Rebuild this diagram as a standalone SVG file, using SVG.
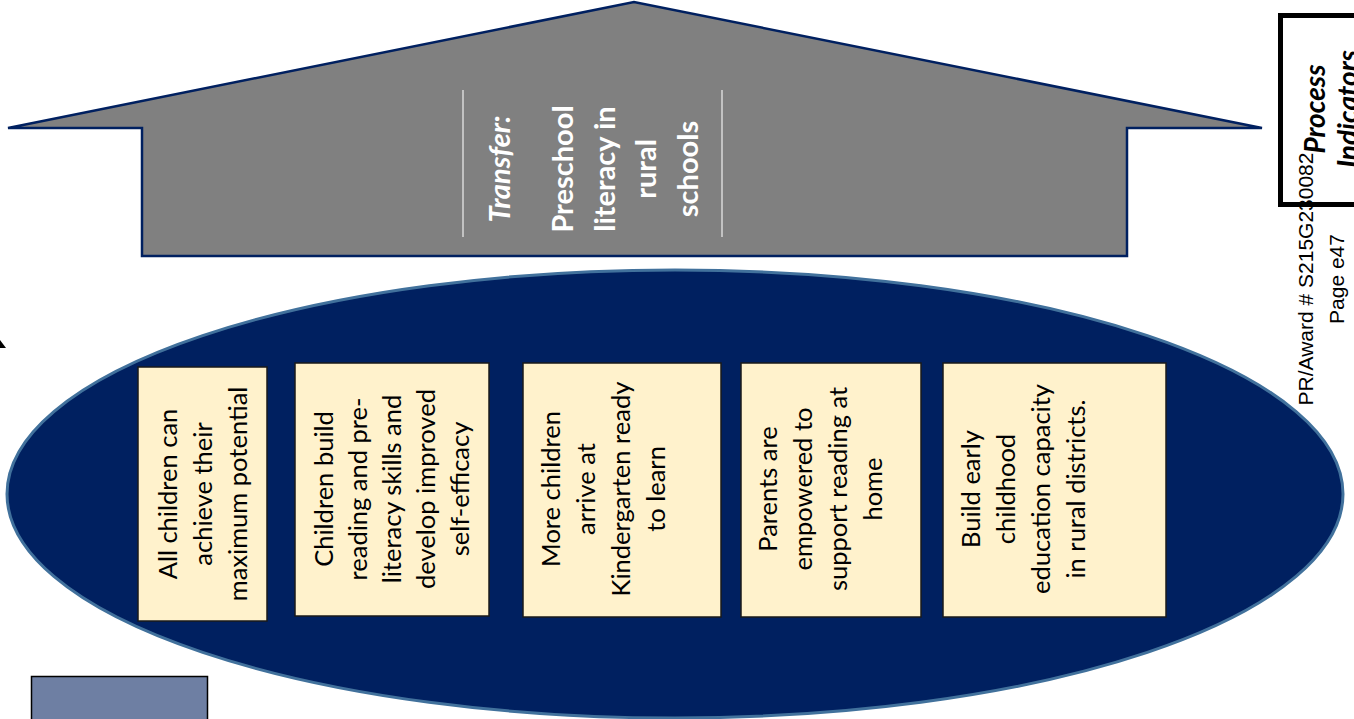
<svg xmlns="http://www.w3.org/2000/svg" width="1354" height="719" viewBox="0 0 1354 719">
<style>
.box{fill:#fff2cc;stroke:#1a1a1a;stroke-width:1.5}
.bt{font-family:Lato,"Open Sans",sans-serif;font-size:25.5px;fill:#000;text-anchor:middle}
.tt{font-family:Lato,"Open Sans",sans-serif;font-size:29px;font-weight:bold;fill:#fff;text-anchor:middle}
.pr{font-family:"Liberation Sans",Arial,sans-serif;font-size:21px;fill:#000;text-anchor:middle}
.pi{font-family:Lato,"Open Sans",sans-serif;font-size:28px;font-weight:bold;font-style:italic;fill:#000;text-anchor:middle}
</style>
<rect width="1354" height="719" fill="#fff"/>
<g id="house">
<polygon points="8,128 634,2 1262,128 1127,128 1127,256 142,256 142,128" fill="#808080" stroke="#002060" stroke-width="2.5" stroke-linejoin="miter"/>
<line x1="463" y1="90" x2="463" y2="237" stroke="#d9d9d9" stroke-width="1.5"/>
<line x1="722" y1="90" x2="722" y2="237" stroke="#d9d9d9" stroke-width="1.5"/>
<text class="tt" font-style="italic" transform="translate(510,169) rotate(-90)">Transfer:</text>
<text class="tt" transform="translate(573,169) rotate(-90)">Preschool</text>
<text class="tt" transform="translate(614.5,169) rotate(-90)">literacy in</text>
<text class="tt" transform="translate(656,169) rotate(-90)">rural</text>
<text class="tt" transform="translate(698,169) rotate(-90)">schools</text>
</g>
<g id="process-indicators">
<rect x="1280.5" y="15.5" width="90" height="189" fill="#fff" stroke="#000" stroke-width="5"/>
<text class="pi" transform="translate(1325,109) rotate(-90)">Process</text>
<text class="pi" transform="translate(1358,109) rotate(-90)">Indicators</text>
</g>
<g id="ellipse">
<ellipse cx="675" cy="494" rx="668" ry="224" fill="#002060" stroke="#41719c" stroke-width="3"/>
</g>
<g id="box1">
<rect class="box" x="138" y="367" width="129" height="254"/>
<text class="bt" transform="translate(177,494) rotate(-90)">All children can</text>
<text class="bt" transform="translate(212,494) rotate(-90)">achieve their</text>
<text class="bt" transform="translate(247,494) rotate(-90)">maximum potential</text>
</g>
<g id="box2">
<rect class="box" x="295" y="363" width="194" height="253"/>
<text class="bt" transform="translate(333,489) rotate(-90)">Children build</text>
<text class="bt" transform="translate(367,489) rotate(-90)">reading and pre-</text>
<text class="bt" transform="translate(401,489) rotate(-90)">literacy skills and</text>
<text class="bt" transform="translate(435,489) rotate(-90)">develop improved</text>
<text class="bt" transform="translate(469,489) rotate(-90)">self-efficacy</text>
</g>
<g id="box3">
<rect class="box" x="523" y="363" width="198" height="254"/>
<text class="bt" transform="translate(560,489) rotate(-90)">More children</text>
<text class="bt" transform="translate(595,489) rotate(-90)">arrive at</text>
<text class="bt" transform="translate(630,489) rotate(-90)">Kindergarten ready</text>
<text class="bt" transform="translate(665,489) rotate(-90)">to learn</text>
</g>
<g id="box4">
<rect class="box" x="741" y="363" width="180" height="254"/>
<text class="bt" transform="translate(777,489) rotate(-90)">Parents are</text>
<text class="bt" transform="translate(812,489) rotate(-90)">empowered to</text>
<text class="bt" transform="translate(847,489) rotate(-90)">support reading at</text>
<text class="bt" transform="translate(882,489) rotate(-90)">home</text>
</g>
<g id="box5">
<rect class="box" x="943" y="363" width="223" height="254"/>
<text class="bt" transform="translate(980,489) rotate(-90)">Build early</text>
<text class="bt" transform="translate(1015,489) rotate(-90)">childhood</text>
<text class="bt" transform="translate(1050,489) rotate(-90)">education capacity</text>
<text class="bt" transform="translate(1085,489) rotate(-90)">in rural districts.</text>
</g>
<g id="footer">
<text class="pr" transform="translate(1313,279) rotate(-90)">PR/Award # S215G230082</text>
<text class="pr" transform="translate(1344,279) rotate(-90)">Page e47</text>
</g>
<g id="bottom-rect">
<rect x="31.5" y="676.5" width="176" height="60" fill="#6e7fa3" stroke="#000" stroke-width="1.5"/>
</g>
<g id="connectors">
<polygon points="0,340 6,348 0,348" fill="#000"/>
</g>
</svg>
